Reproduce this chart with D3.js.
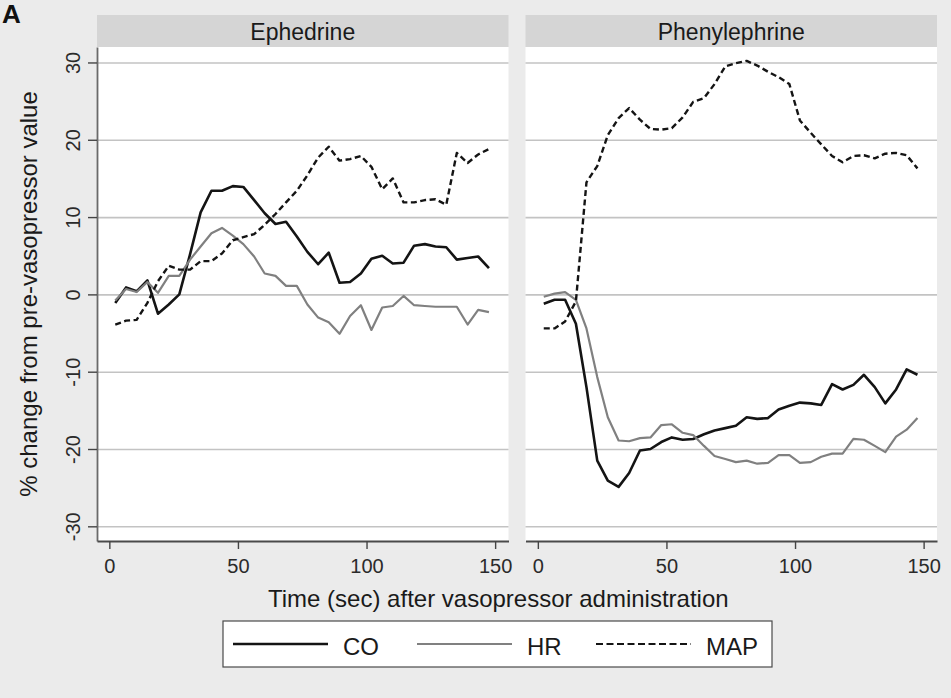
<!DOCTYPE html>
<html>
<head>
<meta charset="utf-8">
<script src="https://cdn.jsdelivr.net/npm/d3@7"></script>
<style>
  html, body { margin: 0; padding: 0; background: #ebebeb; }
  svg { display: block; font-family: "Liberation Sans", Arial, Helvetica, sans-serif; }
</style>
</head>
<body>
<svg id="chart" width="951" height="698"></svg>
<script>
// Sampling times (sec after vasopressor administration)
const seconds = [2.3, 6.5, 10.6, 14.8, 18.9, 23.1, 27.2, 31.4, 35.5, 39.7, 43.8, 48.0,
  52.1, 56.3, 60.4, 64.6, 68.7, 72.9, 77.0, 81.2, 85.3, 89.5, 93.6, 97.8, 101.9, 106.1,
  110.2, 114.4, 118.5, 122.7, 126.8, 131.0, 135.1, 139.3, 143.4, 147.6];

// % change from pre-vasopressor value, ephedrine
const ephedrineCO = [-1.1, 0.9, 0.4, 1.8, -2.5, -1.3, 0.0, 5.2, 10.6, 13.4, 13.4, 14.0,
  13.9, 12.2, 10.5, 9.1, 9.4, 7.5, 5.5, 3.9, 5.4, 1.5, 1.6, 2.7, 4.6, 5.0,
  4.0, 4.1, 6.3, 6.5, 6.2, 6.1, 4.5, 4.7, 4.9, 3.4];
const ephedrineHR = [-0.8, 0.7, 0.3, 1.6, 0.2, 2.4, 2.4, 4.5, 6.2, 7.9, 8.6, 7.6,
  6.5, 4.9, 2.7, 2.4, 1.1, 1.1, -1.3, -3.0, -3.6, -5.1, -2.8, -1.4, -4.6, -1.7,
  -1.5, -0.2, -1.4, -1.5, -1.6, -1.6, -1.6, -3.9, -2.0, -2.3];
const ephedrineMAP = [-3.9, -3.4, -3.3, -1.1, 1.7, 3.7, 3.2, 3.2, 4.3, 4.3, 5.3, 7.0,
  7.4, 7.8, 9.0, 10.4, 11.9, 13.4, 15.4, 17.7, 19.1, 17.3, 17.5, 17.9, 16.5, 13.6,
  15.0, 11.9, 11.9, 12.2, 12.3, 11.6, 18.3, 17.0, 18.1, 18.8];

// % change from pre-vasopressor value, phenylephrine
const phenylephrineCO = [-1.2, -0.7, -0.7, -3.8, -12.0, -21.5, -24.1, -24.9, -23.1, -20.2, -20.0, -19.1,
  -18.5, -18.8, -18.7, -18.1, -17.6, -17.3, -17.0, -15.9, -16.1, -16.0, -14.9, -14.4, -14.0, -14.1,
  -14.3, -11.6, -12.3, -11.7, -10.4, -12.0, -14.1, -12.3, -9.7, -10.4];
const phenylephrineHR = [-0.3, 0.1, 0.3, -0.7, -4.4, -10.7, -15.9, -18.9, -19.0, -18.6, -18.5, -16.9,
  -16.8, -17.9, -18.2, -19.6, -20.9, -21.3, -21.7, -21.5, -21.9, -21.8, -20.8, -20.8, -21.8, -21.7,
  -21.0, -20.6, -20.6, -18.7, -18.8, -19.6, -20.4, -18.4, -17.5, -16.0];
const phenylephrineMAP = [-4.4, -4.4, -3.5, -0.9, 14.5, 16.6, 20.6, 22.8, 24.1, 22.6, 21.4, 21.3,
  21.5, 22.9, 24.9, 25.4, 27.2, 29.5, 29.9, 30.2, 29.6, 28.8, 28.1, 27.2, 22.5, 20.9,
  19.4, 17.9, 17.1, 17.9, 18.0, 17.6, 18.2, 18.3, 18.0, 16.3];

const panelTitles = ["Ephedrine", "Phenylephrine"];
const seriesNames = ["CO", "HR", "MAP"];
const xTicks = [0, 50, 100, 150];
const yTicks = [-30, -20, -10, 0, 10, 20, 30];

const panelSeries = [
  { CO: ephedrineCO, HR: ephedrineHR, MAP: ephedrineMAP },
  { CO: phenylephrineCO, HR: phenylephrineHR, MAP: phenylephrineMAP }
];

const lineStyle = {
  CO:  { stroke: "#141414", width: 2.6, dash: null },
  HR:  { stroke: "#808080", width: 2.2, dash: null },
  MAP: { stroke: "#141414", width: 2.4, dash: "6,3.5" }
};

// plain hyphen-minus tick labels
const plainNumber = d => String(d);

const svg = d3.select("#chart");
svg.append("rect").attr("width", 951).attr("height", 698).attr("fill", "#ebebeb");

// Panel letter
svg.append("text").attr("x", 2).attr("y", 23)
  .attr("font-size", 26).attr("font-weight", "bold").attr("fill", "#111")
  .text("A");

const plotTop = 47, plotBottom = 541, stripTop = 15;
const y = d3.scaleLinear().domain([-31.9, 32.0]).range([plotBottom, plotTop]);
const panelRanges = [[97, 508.5], [525.5, 937]];

panelRanges.forEach((range, i) => {
  const x = d3.scaleLinear().domain([-4.8, 155.2]).range(range);
  const w = range[1] - range[0];
  const g = svg.append("g");

  // strip header
  g.append("rect").attr("x", range[0]).attr("y", stripTop)
    .attr("width", w).attr("height", plotTop - stripTop).attr("fill", "#d5d5d5");
  g.append("text").attr("x", (range[0] + range[1]) / 2).attr("y", 39.5)
    .attr("text-anchor", "middle").attr("font-size", 23).attr("fill", "#1a1a1a")
    .text(panelTitles[i]);

  // plot region
  g.append("rect").attr("x", range[0]).attr("y", plotTop)
    .attr("width", w).attr("height", plotBottom - plotTop).attr("fill", "#ffffff");

  // horizontal grid lines
  const grid = g.append("g").attr("transform", `translate(${range[0]},0)`)
    .call(d3.axisLeft(y).tickValues(yTicks).tickSize(-w).tickFormat(""));
  grid.select(".domain").remove();
  grid.selectAll(".tick line").attr("stroke", "#c3c3c3").attr("stroke-width", 1.6);

  // y axis on the first panel only
  if (i === 0) {
    const ya = g.append("g").attr("transform", `translate(${range[0]},0)`)
      .call(d3.axisLeft(y).tickValues(yTicks).tickFormat(plainNumber).tickSize(9).tickSizeOuter(0));
    ya.select(".domain").attr("stroke", "#6a6a6a").attr("stroke-width", 1.8);
    ya.selectAll(".tick line").attr("stroke", "#444").attr("stroke-width", 1.4);
    ya.selectAll(".tick text")
      .attr("x", 0).attr("dy", 0)
      .attr("transform", "translate(-17,0) rotate(-90)")
      .attr("text-anchor", "middle")
      .attr("font-size", 20).attr("fill", "#2a2a2a")
      .attr("font-family", null);
  }

  // x axis
  const xa = g.append("g").attr("transform", `translate(0,${plotBottom})`)
    .call(d3.axisBottom(x).tickValues(xTicks).tickFormat(plainNumber).tickSize(8).tickSizeOuter(0));
  xa.select(".domain").attr("stroke", "#4a4a4a").attr("stroke-width", 1.8);
  xa.selectAll(".tick line").attr("stroke", "#444").attr("stroke-width", 1.4);
  xa.selectAll(".tick text")
    .attr("y", 32).attr("dy", 0)
    .attr("font-size", 20).attr("fill", "#2a2a2a")
    .attr("font-family", null);

  // series lines
  const line = d3.line()
    .x((d, k) => x(seconds[k]))
    .y(d => y(d));
  seriesNames.forEach(name => {
    const st = lineStyle[name];
    g.append("path")
      .datum(panelSeries[i][name])
      .attr("d", line)
      .attr("fill", "none")
      .attr("stroke", st.stroke)
      .attr("stroke-width", st.width)
      .attr("stroke-linejoin", "round")
      .attr("stroke-dasharray", st.dash);
  });
});

// y axis title
svg.append("text")
  .attr("transform", `translate(37,${(plotTop + plotBottom) / 2}) rotate(-90)`)
  .attr("text-anchor", "middle").attr("font-size", 24).attr("fill", "#1a1a1a")
  .text("% change from pre-vasopressor value");

// x axis title
svg.append("text").attr("x", 268).attr("y", 607)
  .attr("font-size", 24).attr("fill", "#1a1a1a")
  .text("Time (sec) after vasopressor administration");

// legend
const legend = svg.append("g");
legend.append("rect").attr("x", 223).attr("y", 621).attr("width", 549).attr("height", 46)
  .attr("fill", "#ffffff").attr("stroke", "#4a4a4a").attr("stroke-width", 1.2);
const legendKeyX = [233, 417, 596];
seriesNames.forEach((name, k) => {
  const st = lineStyle[name];
  legend.append("line")
    .attr("x1", legendKeyX[k]).attr("x2", legendKeyX[k] + 95)
    .attr("y1", 644).attr("y2", 644)
    .attr("stroke", st.stroke).attr("stroke-width", name === "MAP" ? 2.2 : st.width)
    .attr("stroke-dasharray", name === "MAP" ? "7,3.5" : null);
  legend.append("text")
    .attr("x", legendKeyX[k] + 110).attr("y", 655)
    .attr("font-size", 24).attr("fill", "#1a1a1a")
    .text(name);
});
</script>
</body>
</html>
